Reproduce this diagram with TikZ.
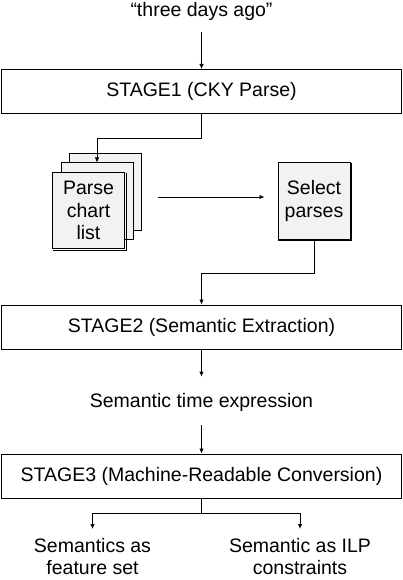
\documentclass[tikz,border=0pt]{standalone}
\usepackage{fontspec}
\setmainfont{Liberation Sans}
\usetikzlibrary{arrows.meta}
\definecolor{cardgray}{RGB}{242,242,242}
\begin{document}
\begin{tikzpicture}[x=1pt,y=-1pt,
  every node/.style={font=\fontsize{19.5}{22.5}\selectfont, inner sep=0pt},
  stagebox/.style={draw, line width=1pt, minimum width=400pt, minimum height=44pt},
  card/.style={draw, fill=cardgray, line width=1pt, minimum width=72pt, minimum height=76pt, align=center},
  arr/.style={line width=0.8pt, -{Latex[length=5pt,width=4.5pt]}},
  ln/.style={line width=0.8pt},
  shadowline/.style={line width=1pt}]
\useasboundingbox (0,0) rectangle (402,580);
\coordinate (ya) at (0,197);
% nodes
\node[anchor=base] (src) at (201.5,17) {“three days ago”};
\node[stagebox] (s1) at (201.5,91.5) {STAGE1 (CKY Parse)};
\node[card] (back) at (105.5,192) {};
\node[card] (mid) at (97,201) {};
\node[card] (front) at (88.5,210.5) {Parse\\chart\\list};
\draw[shadowline] ([xshift=1pt,yshift=-0.5pt]front.north east) -- ([xshift=1pt,yshift=-1pt]front.south east) -- ([xshift=0.5pt,yshift=-1pt]front.south west);
\node[card] (sel) at (314,201) {Select\\parses};
\draw[shadowline] ([xshift=1pt,yshift=-0.5pt]sel.north east) -- ([xshift=1pt,yshift=-1pt]sel.south east) -- ([xshift=0.5pt,yshift=-1pt]sel.south west);
\node[stagebox] (s2) at (201.5,327) {STAGE2 (Semantic Extraction)};
\node[anchor=base] (ste) at (201.5,407) {Semantic time expression};
\node[stagebox] (s3) at (201.5,476) {STAGE3 (Machine-Readable Conversion)};
\node[align=center, anchor=north] (o1) at (92.5,538) {Semantics as\\feature set};
\node[align=center, anchor=north] (o2) at (300,538) {Semantic as ILP\\constraints};
% connectors
\draw[arr, shorten <=11pt] (src.south) -- (s1.north);
\draw[arr] (s1.south) -- ++(0,24) -| (mid.north);
\draw[arr, shorten <=16pt, shorten >=13pt] (back.east |- ya) -- (sel.west |- ya);
\draw[arr] (sel.south) -- ++(0,34) -| (s2.north);
\draw[arr, shorten >=16pt] (s2.south) -- (ste.north);
\draw[arr, shorten <=14pt] (ste.south) -- (s3.north);
\draw[ln] (s3.south) -- ++(0,15) coordinate (j3);
\draw[arr, shorten >=9pt] (j3) -| (o1.north);
\draw[arr, shorten >=9pt] (j3) -| (o2.north);
\end{tikzpicture}
\end{document}
